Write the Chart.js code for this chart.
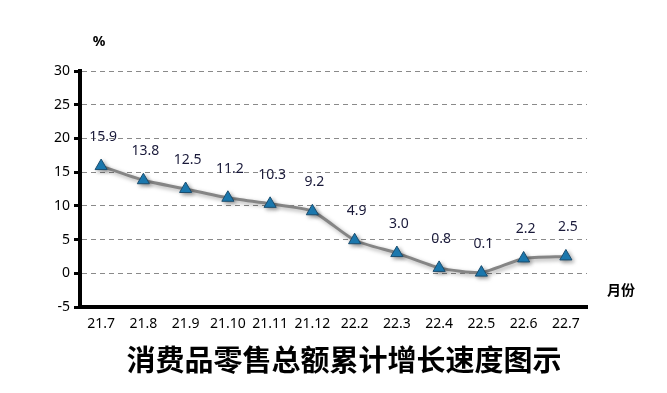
<!DOCTYPE html>
<html>
<head>
<meta charset="utf-8">
<script src="https://cdn.jsdelivr.net/npm/chart.js@4"></script>
<style>
  body { margin: 0; background: #fff; }
  #wrap { width: 667px; height: 393px; }
</style>
</head>
<body>
<div id="wrap"><canvas id="growth"></canvas></div>
<script>
var months = ["21.7", "21.8", "21.9", "21.10", "21.11", "21.12", "22.2", "22.3", "22.4", "22.5", "22.6", "22.7"];
var growthRate = [15.9, 13.8, 12.5, 11.2, 10.3, 9.2, 4.9, 3.0, 0.8, 0.1, 2.2, 2.5];
var chartTitle = "消费品零售总额累计增长速度图示";

var labelFont = "14px 'Noto Sans', sans-serif";

var extras = {
  id: "extras",
  beforeDatasetDraw: function (chart) {
    var c = chart.ctx;
    c.save();
    c.shadowColor = "rgba(0,0,0,0.35)";
    c.shadowBlur = 4;
    c.shadowOffsetX = 2;
    c.shadowOffsetY = 2;
  },
  afterDatasetDraw: function (chart) {
    chart.ctx.restore();
  },
  afterDraw: function (chart) {
    var c = chart.ctx;
    var meta = chart.getDatasetMeta(0);
    c.save();
    c.font = labelFont;
    c.fillStyle = "#1a1a3a";
    c.textAlign = "center";
    c.textBaseline = "middle";
    meta.data.forEach(function (pt, i) {
      c.fillText(growthRate[i].toFixed(1), pt.x + 2, pt.y - 29);
    });
    c.fillStyle = "#000";
    c.font = "bold 14px 'Noto Sans', sans-serif";
    c.fillText("%", 99, 42);
    c.font = "bold 14px 'Noto Sans CJK SC', sans-serif";
    c.fillText("月份", 621, 290);
    c.font = "bold 29px 'Noto Sans CJK SC', sans-serif";
    c.fillText(chartTitle, 344, 360);
    c.restore();
  }
};

var ctx = document.getElementById("growth").getContext('2d');
var growthChart = new Chart(ctx, {
  type: "line",
  data: {
    labels: months,
    datasets: [{
      data: growthRate,
      borderColor: "#858585",
      borderWidth: 3,
      tension: 0.2,
      pointStyle: "triangle",
      pointRadius: 7,
      pointBackgroundColor: "#1d7fb8",
      pointBorderColor: "#1b4d6e",
      pointBorderWidth: 1
    }]
  },
  options: {
    responsive: true,
    maintainAspectRatio: false,
    animation: false,
    layout: { padding: { left: 0, right: 80, top: 71, bottom: 0 } },
    plugins: { legend: { display: false }, tooltip: { enabled: false } },
    scales: {
      x: {
        offset: true,
        grid: { display: false, drawTicks: false },
        border: { color: "#000", width: 4 },
        ticks: { color: "#000", font: { family: "'Noto Sans', sans-serif", size: 14 }, padding: 9, maxRotation: 0, autoSkip: false },
        afterFit: function (scale) { scale.height = 86; }
      },
      y: {
        min: -5,
        max: 30,
        ticks: { stepSize: 5, color: "#000", font: { family: "'Noto Sans', sans-serif", size: 14 }, padding: 4 },
        grid: { color: "#8a8a8a", lineWidth: 1, tickLength: 6, tickColor: "#000", tickWidth: 3, tickBorderDash: [] },
        border: { color: "#000", width: 4, dash: [5, 4] },
        afterFit: function (scale) { scale.width = 80; }
      }
    }
  },
  plugins: [extras]
});
</script>
</body>
</html>
